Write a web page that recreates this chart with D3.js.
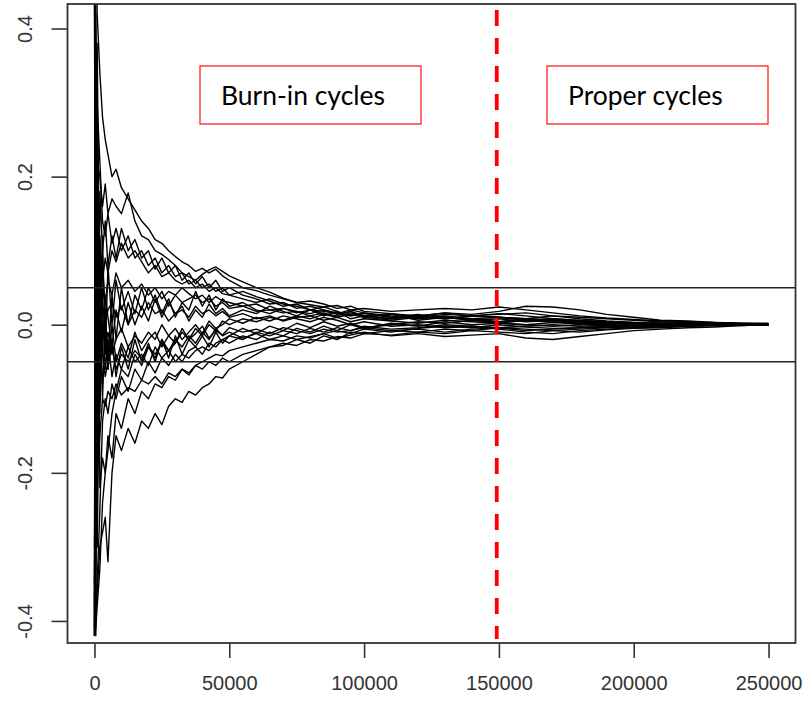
<!DOCTYPE html>
<html><head><meta charset="utf-8">
<script src="https://cdn.jsdelivr.net/npm/d3@7"></script>
<style>html,body{margin:0;padding:0;background:#fff;}</style>
</head><body>
<svg id="c" width="812" height="706"></svg>
<script>
// iteration grid (x values shared by all traces)
const iterations = [0,500,1000,2000,3000,4000,5000,6500,8000,10000,
 12500,15000,17500,20000,22500,25000,27500,30000,32500,35000,37500,40000,42500,45000,47500,50000,
 55000,60000,65000,70000,75000,80000,85000,90000,95000,100000,
 110000,120000,130000,140000,150000,160000,170000,180000,190000,200000,210000,220000,230000,240000,250000];

const trace1 = [0.95,0.55,0.42,0.34,0.28,0.25,0.23,0.2,0.21,0.185,0.17,0.155,0.14,0.13,0.115,0.11,0.1,0.092,0.085,0.08,0.072,0.076,0.07,0.075,0.066,0.06,0.05,0.046,0.04,0.035,0.03,0.027,0.024,0.026,0.02,0.022,0.018,0.02,0.022,0.02,0.024,0.02,0.016,0.012,0.009,0.007,0.005,0.004,0.003,0.002,0.002];
const trace2 = [0.6,0.3,0.22,0.2,0.16,0.19,0.15,0.17,0.16,0.15,0.178,0.14,0.12,0.115,0.1,0.095,0.088,0.08,0.07,0.065,0.06,0.068,0.074,0.078,0.072,0.066,0.058,0.05,0.044,0.036,0.03,0.032,0.028,0.022,0.025,0.018,0.015,0.012,0.016,0.014,0.018,0.025,0.024,0.02,0.014,0.01,0.006,0.005,0.003,0.002,0.001];
const trace3 = [-0.42,0.25,-0.2,0.12,0.06,0.09,0.07,0.1,0.085,0.11,0.09,0.1,0.085,0.07,0.08,0.065,0.07,0.06,0.055,0.06,0.05,0.055,0.045,0.05,0.042,0.04,0.035,0.03,0.035,0.028,0.025,0.02,0.018,0.015,0.02,0.016,0.012,0.01,0.014,0.012,0.01,0.008,0.012,0.01,0.008,0.006,0.004,0.003,0.002,0.001,0.001];
const trace4 = [0.5,-0.3,0.2,-0.1,0.05,0.03,0.06,0.04,0.07,0.05,0.06,0.045,0.055,0.04,0.05,0.035,0.045,0.04,0.05,0.042,0.035,0.04,0.03,0.038,0.032,0.03,0.025,0.028,0.02,0.022,0.018,0.015,0.02,0.016,0.012,0.015,0.01,0.008,0.01,0.006,0.008,0.004,0.006,0.004,0.003,0.002,0.002,0.001,0.001,0.0,0.0];
const trace5 = [-0.41,0.35,-0.22,0.1,0.03,0.0,0.02,0.03,0.01,0.025,0.0,0.02,0.01,0.03,0.015,0.02,0.005,0.015,0.02,0.01,0.025,0.015,0.02,0.012,0.018,0.01,0.015,0.008,0.012,0.005,0.01,0.012,0.006,0.01,0.004,0.008,0.005,0.002,0.006,0.004,0.002,0.0,0.003,0.001,-0.001,0.0,0.001,0.0,-0.001,0.0,0.0];
const trace6 = [0.8,-0.33,0.25,-0.12,0.0,-0.03,-0.01,-0.04,-0.02,-0.005,-0.03,-0.015,-0.025,-0.01,-0.02,0.0,-0.015,-0.005,-0.02,-0.01,0.0,-0.012,0.005,-0.005,0.0,0.008,0.002,0.01,0.005,0.012,0.008,0.004,0.01,0.006,0.0,0.004,-0.002,0.0,-0.004,-0.002,-0.006,-0.01,-0.012,-0.008,-0.006,-0.004,-0.003,-0.002,-0.001,-0.001,0.0];
const trace7 = [-0.38,0.3,-0.25,0.08,-0.04,-0.07,-0.05,-0.03,-0.06,-0.04,-0.05,-0.035,-0.045,-0.03,-0.04,-0.025,-0.035,-0.02,-0.03,-0.015,-0.025,-0.01,-0.02,-0.005,-0.015,-0.01,-0.018,-0.012,-0.02,-0.015,-0.02,-0.016,-0.012,-0.018,-0.014,-0.01,-0.015,-0.012,-0.016,-0.014,-0.012,-0.018,-0.02,-0.016,-0.012,-0.008,-0.006,-0.004,-0.003,-0.001,0.0];
const trace8 = [-0.42,-0.4,-0.35,-0.25,-0.13,-0.1,-0.12,-0.08,-0.1,-0.07,-0.09,-0.06,-0.075,-0.05,-0.065,-0.045,-0.055,-0.04,-0.05,-0.035,-0.03,-0.04,-0.025,-0.03,-0.02,-0.025,-0.015,-0.02,-0.01,-0.015,-0.005,-0.01,-0.002,-0.008,0.0,-0.005,0.002,-0.002,0.004,0.0,0.002,0.006,0.004,0.002,0.0,0.001,-0.001,0.0,0.001,0.0,0.0];
const trace9 = [-0.4,-0.38,-0.36,-0.3,-0.28,-0.26,-0.32,-0.2,-0.15,-0.17,-0.14,-0.16,-0.13,-0.14,-0.12,-0.135,-0.11,-0.1,-0.105,-0.09,-0.095,-0.085,-0.08,-0.07,-0.072,-0.06,-0.05,-0.04,-0.03,-0.028,-0.02,-0.025,-0.015,-0.02,-0.01,-0.012,-0.008,-0.01,-0.006,-0.008,-0.004,-0.006,-0.008,-0.01,-0.007,-0.005,-0.004,-0.002,-0.001,0.0,0.0];
const trace10 = [0.45,-0.28,-0.2,-0.15,-0.1,-0.11,-0.09,-0.1,-0.08,-0.095,-0.085,-0.09,-0.075,-0.08,-0.07,-0.08,-0.065,-0.07,-0.06,-0.065,-0.055,-0.05,-0.045,-0.04,-0.042,-0.035,-0.03,-0.025,-0.02,-0.022,-0.015,-0.018,-0.012,-0.008,-0.012,-0.006,-0.01,-0.005,-0.002,-0.004,0.0,-0.003,-0.005,-0.004,-0.002,-0.001,0.0,0.0,0.0,0.001,0.0];
const trace11 = [-0.42,-0.41,-0.38,-0.33,-0.24,-0.2,-0.17,-0.12,-0.09,-0.06,-0.07,-0.04,-0.055,-0.03,-0.045,-0.02,-0.035,-0.025,-0.01,-0.02,-0.005,-0.015,0.0,-0.008,0.005,0.0,0.008,0.004,0.01,0.006,0.012,0.008,0.014,0.01,0.016,0.012,0.008,0.012,0.01,0.006,0.004,0.008,0.006,0.003,0.002,0.0,-0.001,0.0,0.001,0.0,0.0];
const trace12 = [0.7,0.4,0.3,0.22,0.14,0.12,0.15,0.11,0.13,0.1,0.12,0.09,0.1,0.08,0.09,0.07,0.08,0.065,0.07,0.055,0.06,0.05,0.055,0.045,0.05,0.04,0.045,0.038,0.032,0.025,0.028,0.02,0.024,0.018,0.012,0.016,0.01,0.014,0.008,0.012,0.015,0.012,0.008,0.006,0.004,0.003,0.002,0.002,0.001,0.001,0.0];
const trace13 = [0.9,-0.25,0.15,-0.06,0.08,0.02,-0.05,0.04,-0.02,0.05,0.0,0.04,0.02,0.05,0.03,0.045,0.025,0.04,0.03,0.035,0.04,0.03,0.035,0.025,0.03,0.022,0.025,0.018,0.02,0.016,0.018,0.012,0.016,0.01,0.014,0.01,0.006,0.01,0.008,0.012,0.01,0.006,0.004,0.002,0.001,0.0,0.0,0.001,0.0,0.0,0.0];
const trace14 = [-0.35,0.2,-0.15,0.06,0.02,-0.06,-0.02,-0.07,-0.04,-0.06,-0.03,-0.05,-0.04,-0.055,-0.03,-0.045,-0.035,-0.05,-0.04,-0.045,-0.035,-0.03,-0.035,-0.025,-0.02,-0.015,-0.02,-0.01,-0.015,-0.008,-0.012,-0.005,-0.01,-0.004,-0.008,-0.002,-0.006,-0.004,0.0,-0.002,-0.004,-0.002,0.0,-0.002,-0.001,0.0,0.0,-0.001,0.0,0.0,0.0];
const trace15 = [-0.3,0.28,-0.1,0.05,-0.02,0.04,0.01,-0.03,0.02,-0.01,0.03,0.0,0.025,0.005,0.035,0.01,0.03,0.015,0.025,0.005,0.02,0.01,0.028,0.015,0.022,0.012,0.02,0.015,0.025,0.018,0.012,0.02,0.015,0.012,0.018,0.01,0.014,0.006,0.01,0.008,0.004,0.006,0.008,0.005,0.003,0.002,0.001,0.002,0.001,0.0,0.0];
const trace16 = [0.55,-0.36,0.1,-0.05,-0.08,-0.02,-0.06,0.0,-0.05,-0.025,-0.045,-0.01,-0.035,-0.02,-0.01,-0.03,-0.015,-0.025,-0.005,-0.02,-0.012,-0.002,-0.018,-0.008,-0.014,-0.004,-0.01,-0.006,-0.012,-0.004,-0.008,-0.012,-0.006,-0.01,-0.008,-0.004,-0.008,-0.006,-0.01,-0.006,-0.004,-0.008,-0.006,-0.004,-0.003,-0.002,-0.001,0.0,-0.001,0.0,0.0];
const trace17 = [-0.42,0.42,-0.3,0.18,0.1,0.14,0.08,0.12,0.09,0.13,0.1,0.115,0.09,0.1,0.075,0.09,0.07,0.08,0.06,0.07,0.055,0.065,0.05,0.06,0.045,0.05,0.04,0.035,0.028,0.03,0.022,0.025,0.02,0.014,0.018,0.012,0.015,0.01,0.012,0.008,0.01,0.008,0.006,0.004,0.003,0.002,0.001,0.001,0.0,0.0,0.0];
const trace18 = [0.7,-0.42,0.3,-0.22,-0.18,-0.2,-0.15,-0.18,-0.12,-0.14,-0.1,-0.12,-0.09,-0.1,-0.08,-0.085,-0.07,-0.075,-0.06,-0.068,-0.055,-0.06,-0.05,-0.055,-0.045,-0.05,-0.04,-0.035,-0.03,-0.025,-0.028,-0.02,-0.022,-0.016,-0.018,-0.012,-0.014,-0.01,-0.012,-0.008,-0.01,-0.012,-0.008,-0.006,-0.004,-0.003,-0.002,-0.001,0.0,0.0,0.0];
const trace19 = [0.85,-0.2,0.38,0.0,0.12,-0.04,0.08,0.0,0.06,0.02,0.045,0.015,0.05,0.02,0.04,0.015,0.035,0.01,0.03,0.02,0.045,0.025,0.04,0.02,0.035,0.025,0.03,0.02,0.015,0.022,0.016,0.02,0.012,0.018,0.008,0.012,0.008,0.012,0.016,0.012,0.014,0.016,0.012,0.008,0.005,0.003,0.002,0.001,0.001,0.0,0.0];
const trace20 = [-0.42,0.1,-0.3,0.04,-0.1,0.02,-0.06,-0.02,-0.07,-0.03,-0.06,-0.02,-0.05,-0.025,-0.05,-0.02,-0.045,-0.015,-0.04,-0.02,-0.03,-0.015,-0.03,-0.01,-0.025,-0.015,-0.005,-0.012,-0.002,-0.008,0.002,-0.004,0.004,-0.002,0.002,-0.004,0.0,0.004,0.002,0.006,0.002,0.0,-0.002,0.0,0.001,0.0,0.0,0.0,0.0,0.0,0.0];
const traces = [trace1,trace2,trace3,trace4,trace5,trace6,trace7,trace8,trace9,trace10,
                trace11,trace12,trace13,trace14,trace15,trace16,trace17,trace18,trace19,trace20];

const xTicks = [0,50000,100000,150000,200000,250000];
const yTicks = [-0.4,-0.2,0.0,0.2,0.4];
const bandLimits = [-0.05, 0.05];
const burnInEnd = 149200;
const labels = [
  {text:"Burn-in cycles", x0:200, x1:421},
  {text:"Proper cycles", x0:547, x1:768}
];

const svg = d3.select("#c");
const L=67.5, R=795.5, T=4, B=643;
const x = d3.scaleLinear().domain([-10000,260000]).range([L,R]);
const y = d3.scaleLinear().domain([-0.4298,0.4331]).range([B,T]);

svg.append("rect").attr("width",812).attr("height",706).attr("fill","#fff");
svg.append("defs").append("clipPath").attr("id","clip")
  .append("rect").attr("x",L).attr("y",T).attr("width",R-L).attr("height",B-T);

const plot = svg.append("g").attr("clip-path","url(#clip)");
const line = d3.line().x((d,i)=>x(iterations[i])).y(d=>y(d));
plot.selectAll("path.trace").data(traces).enter().append("path")
  .attr("class","trace").attr("d",line)
  .attr("fill","none").attr("stroke","#000").attr("stroke-width",1.4)
  .attr("stroke-linejoin","round");

plot.selectAll("line.band").data(bandLimits).enter().append("line")
  .attr("x1",L).attr("x2",R).attr("y1",d=>y(d)).attr("y2",d=>y(d))
  .attr("stroke","#222").attr("stroke-width",1.6);

// axes
const fmtY = d => d3.format(".1f")(d).replace("\u2212","-");
const xAxis = svg.append("g").attr("transform",`translate(0,${B})`)
  .call(d3.axisBottom(x).tickValues(xTicks).tickFormat(d3.format("d")).tickSize(15).tickPadding(18));
const yAxis = svg.append("g").attr("transform",`translate(${L},0)`)
  .call(d3.axisLeft(y).tickValues(yTicks).tickFormat(fmtY).tickSize(16).tickPadding(4));
[xAxis,yAxis].forEach(a=>{
  a.select(".domain").remove();
  a.selectAll(".tick line").attr("stroke","#333").attr("stroke-width",1.6);
  a.selectAll("text").attr("fill","#333").style("font-family","'Liberation Sans', Arial, sans-serif").style("font-size","20px");
});
xAxis.selectAll("text").attr("dy","0.71em");
yAxis.selectAll(".tick text").attr("text-anchor","middle").attr("x",0)
  .attr("transform","translate(-43,0) rotate(-90)").attr("dy","0.35em");

// frame
svg.append("rect").attr("x",L).attr("y",T).attr("width",R-L).attr("height",B-T)
  .attr("fill","none").attr("stroke","#333").attr("stroke-width",1.8);

// burn-in divider
svg.append("line").attr("x1",x(burnInEnd)).attr("x2",x(burnInEnd)).attr("y1",T+6).attr("y2",B-4)
  .attr("stroke","#ff0000").attr("stroke-width",3.8).attr("stroke-dasharray","16 12");

// label boxes
labels.forEach(l=>{
  svg.append("rect").attr("x",l.x0).attr("y",66).attr("width",l.x1-l.x0).attr("height",58)
    .attr("fill","#fff").attr("stroke","#ff2020").attr("stroke-width",1.3);
  svg.append("text").attr("class","lbl").attr("x",l.x0+21).attr("y",105).text(l.text)
    .style("font-family","Lato, 'Open Sans', sans-serif").style("font-size","24px").attr("fill","#000");
});
// fit label font so "Burn-in cycles" is about 164px wide
const first = svg.select("text.lbl").node();
const fs = 24*164/first.getComputedTextLength();
svg.selectAll("text.lbl").style("font-size",fs+"px");
</script>
</body></html>
